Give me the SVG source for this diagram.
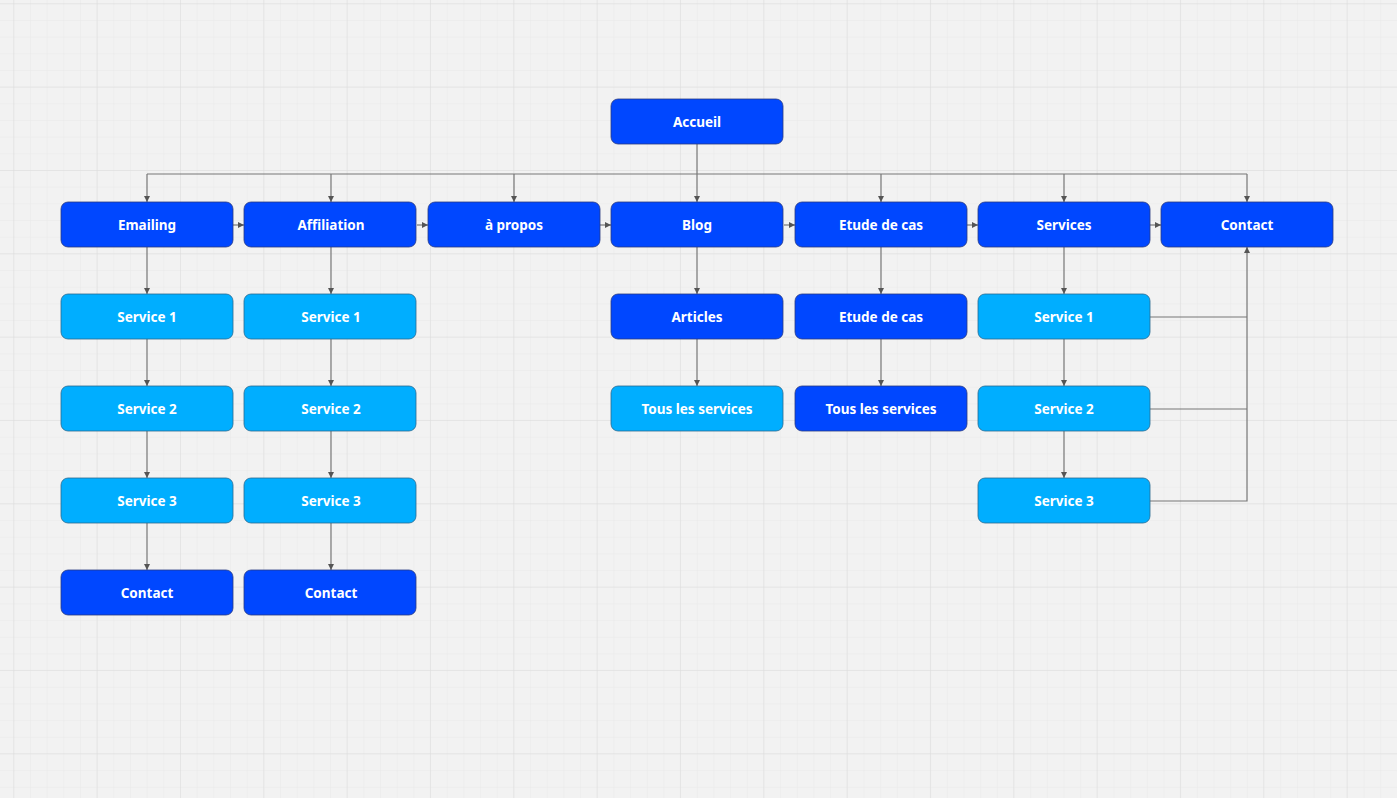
<svg xmlns="http://www.w3.org/2000/svg" width="1397" height="798" viewBox="0 0 1397 798">
<defs>
<pattern id="minor" x="13.3" y="3.3" width="16.67" height="16.67" patternUnits="userSpaceOnUse"><path d="M0 0V16.67M0 0H16.67" stroke="#e6e6e6" stroke-width="0.8" fill="none"/></pattern>
<pattern id="major" x="13.3" y="3.3" width="83.33" height="83.33" patternUnits="userSpaceOnUse"><path d="M0 0V83.33M0 0H83.33" stroke="#dcdcdc" stroke-width="1" fill="none"/></pattern>
<marker id="a" viewBox="0 0 6 6" refX="6" refY="3" markerWidth="5" markerHeight="5" orient="auto"><path d="M0 0L6 3L0 6z" fill="#555"/></marker>
</defs>
<style>
.d{fill:#0047FF;stroke:#2a3a80;stroke-width:0.8}
.l{fill:#00AEFF;stroke:#2a6a90;stroke-width:0.8}
text{font-family:"Noto Sans","Open Sans",sans-serif;font-weight:bold;font-size:13.5px;fill:#fff;text-anchor:middle;dominant-baseline:central}
.c path{fill:none;stroke:#777;stroke-width:1.2}
.c .m{marker-end:url(#a)}
</style>
<rect width="1397" height="798" fill="#f2f2f2"/>
<rect width="1397" height="798" fill="url(#minor)"/>
<rect width="1397" height="798" fill="url(#major)"/>
<g class="c">
<path d="M697 144V174H147M697 174H1247"/>
<path class="m" d="M147 174V202"/><path class="m" d="M331 174V202"/><path class="m" d="M514 174V202"/><path class="m" d="M697 174V202"/><path class="m" d="M881 174V202"/><path class="m" d="M1064 174V202"/><path class="m" d="M1247 174V202"/>
<path class="m" d="M233 225H244"/><path class="m" d="M417 225H428"/><path class="m" d="M600 225H611"/><path class="m" d="M784 225H795"/><path class="m" d="M967 225H978"/><path class="m" d="M1150 225H1161"/>
<path class="m" d="M147 247V294"/><path class="m" d="M147 339V386"/><path class="m" d="M147 431V478"/><path class="m" d="M147 523V570"/>
<path class="m" d="M331 247V294"/><path class="m" d="M331 339V386"/><path class="m" d="M331 431V478"/><path class="m" d="M331 523V570"/>
<path class="m" d="M697 247V294"/><path class="m" d="M697 339V386"/>
<path class="m" d="M881 247V294"/><path class="m" d="M881 339V386"/>
<path class="m" d="M1064 247V294"/><path class="m" d="M1064 339V386"/><path class="m" d="M1064 431V478"/>
<path d="M1150 317H1247M1150 409H1247"/>
<path class="m" d="M1150 501H1247V247"/>
</g>
<g id="accueil"><rect class="d" x="611" y="99" width="172" height="45" rx="7"/><text x="697" y="122">Accueil</text></g>
<g id="emailing"><rect class="d" x="61" y="202" width="172" height="45" rx="7"/><text x="147" y="225">Emailing</text></g>
<g id="affiliation"><rect class="d" x="244" y="202" width="172" height="45" rx="7"/><text x="331" y="225">Affiliation</text></g>
<g id="apropos"><rect class="d" x="428" y="202" width="172" height="45" rx="7"/><text x="514" y="225">à propos</text></g>
<g id="blog"><rect class="d" x="611" y="202" width="172" height="45" rx="7"/><text x="697" y="225">Blog</text></g>
<g id="etude"><rect class="d" x="795" y="202" width="172" height="45" rx="7"/><text x="881" y="225">Etude de cas</text></g>
<g id="services"><rect class="d" x="978" y="202" width="172" height="45" rx="7"/><text x="1064" y="225">Services</text></g>
<g id="contact"><rect class="d" x="1161" y="202" width="172" height="45" rx="7"/><text x="1247" y="225">Contact</text></g>
<g id="e1"><rect class="l" x="61" y="294" width="172" height="45" rx="7"/><text x="147" y="317">Service 1</text></g>
<g id="e2"><rect class="l" x="61" y="386" width="172" height="45" rx="7"/><text x="147" y="409">Service 2</text></g>
<g id="e3"><rect class="l" x="61" y="478" width="172" height="45" rx="7"/><text x="147" y="501">Service 3</text></g>
<g id="ec"><rect class="d" x="61" y="570" width="172" height="45" rx="7"/><text x="147" y="593">Contact</text></g>
<g id="a1"><rect class="l" x="244" y="294" width="172" height="45" rx="7"/><text x="331" y="317">Service 1</text></g>
<g id="a2"><rect class="l" x="244" y="386" width="172" height="45" rx="7"/><text x="331" y="409">Service 2</text></g>
<g id="a3"><rect class="l" x="244" y="478" width="172" height="45" rx="7"/><text x="331" y="501">Service 3</text></g>
<g id="ac"><rect class="d" x="244" y="570" width="172" height="45" rx="7"/><text x="331" y="593">Contact</text></g>
<g id="articles"><rect class="d" x="611" y="294" width="172" height="45" rx="7"/><text x="697" y="317">Articles</text></g>
<g id="bts"><rect class="l" x="611" y="386" width="172" height="45" rx="7"/><text x="697" y="409">Tous les services</text></g>
<g id="etude2"><rect class="d" x="795" y="294" width="172" height="45" rx="7"/><text x="881" y="317">Etude de cas</text></g>
<g id="ets"><rect class="d" x="795" y="386" width="172" height="45" rx="7"/><text x="881" y="409">Tous les services</text></g>
<g id="s1"><rect class="l" x="978" y="294" width="172" height="45" rx="7"/><text x="1064" y="317">Service 1</text></g>
<g id="s2"><rect class="l" x="978" y="386" width="172" height="45" rx="7"/><text x="1064" y="409">Service 2</text></g>
<g id="s3"><rect class="l" x="978" y="478" width="172" height="45" rx="7"/><text x="1064" y="501">Service 3</text></g>
</svg>
